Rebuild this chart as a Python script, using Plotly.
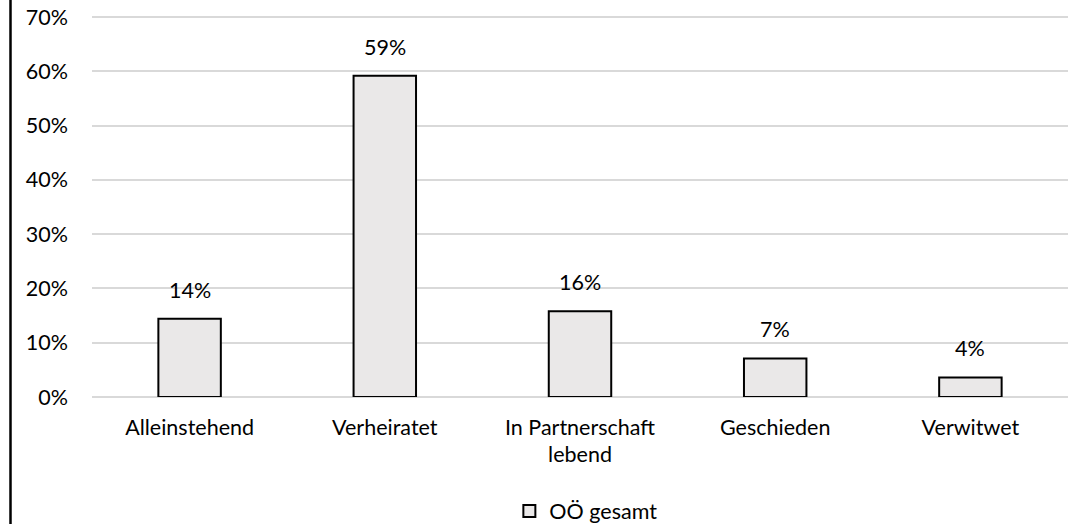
import plotly.graph_objects as go

categories = ["Alleinstehend", "Verheiratet", "In Partnerschaft<br>lebend", "Geschieden", "Verwitwet"]
values = [14.4, 59.2, 15.8, 7.1, 3.6]
labels = ["14%", "59%", "16%", "7%", "4%"]
y_ticks = [0, 10, 20, 30, 40, 50, 60, 70]
y_tick_text = ["0%", "10%", "20%", "30%", "40%", "50%", "60%", "70%"]
series_name = "OÖ gesamt"

FONT = "Lato, Open Sans, sans-serif"
FS = 21.5

H = 524
T, B = 15, 127
PH = H - T - B

fig = go.Figure()
fig.add_trace(go.Bar(
    x=categories, y=values, name=series_name,
    marker=dict(color="#EAE8E8", line=dict(color="black", width=2)),
    width=0.32, showlegend=True,
))

for c, v, t in zip(categories, values, labels):
    fig.add_annotation(x=c, y=v, text=t, showarrow=False, yanchor="bottom",
                       yshift=14, font=dict(size=FS, color="#000", family=FONT))

fig.add_shape(type="line", xref="paper", yref="paper",
              x0=(10.5 - 92) / 976, x1=(10.5 - 92) / 976, y0=-B / PH, y1=1 + T / PH,
              line=dict(color="black", width=2.5))

fig.update_layout(
    width=1071, height=H,
    margin=dict(l=92, r=3, t=T, b=B, autoexpand=False),
    plot_bgcolor="white", paper_bgcolor="white",
    font=dict(family=FONT, size=FS, color="#000"),
    xaxis=dict(showgrid=False, showline=False, ticks="", ticklabelstandoff=15,
               tickfont=dict(size=FS), automargin=False),
    yaxis=dict(range=[0, 70 * PH / 380], tickvals=y_ticks, ticktext=y_tick_text,
               showgrid=True, gridcolor="#D9D9D9", gridwidth=1.5, zeroline=True,
               zerolinecolor="#D9D9D9", zerolinewidth=1.5,
               showline=False, ticks="", ticklabelstandoff=23, tickfont=dict(size=FS),
               automargin=False),
    legend=dict(orientation="h", x=0.506, xanchor="center", y=-(511 - (T + PH)) / PH,
                yanchor="middle", font=dict(size=FS), itemwidth=30),
    bargap=0.68,
)

fig.write_html("out.html", config={"displayModeBar": False},
               post_script="document.body.style.margin='0';document.body.style.overflow='hidden';")
